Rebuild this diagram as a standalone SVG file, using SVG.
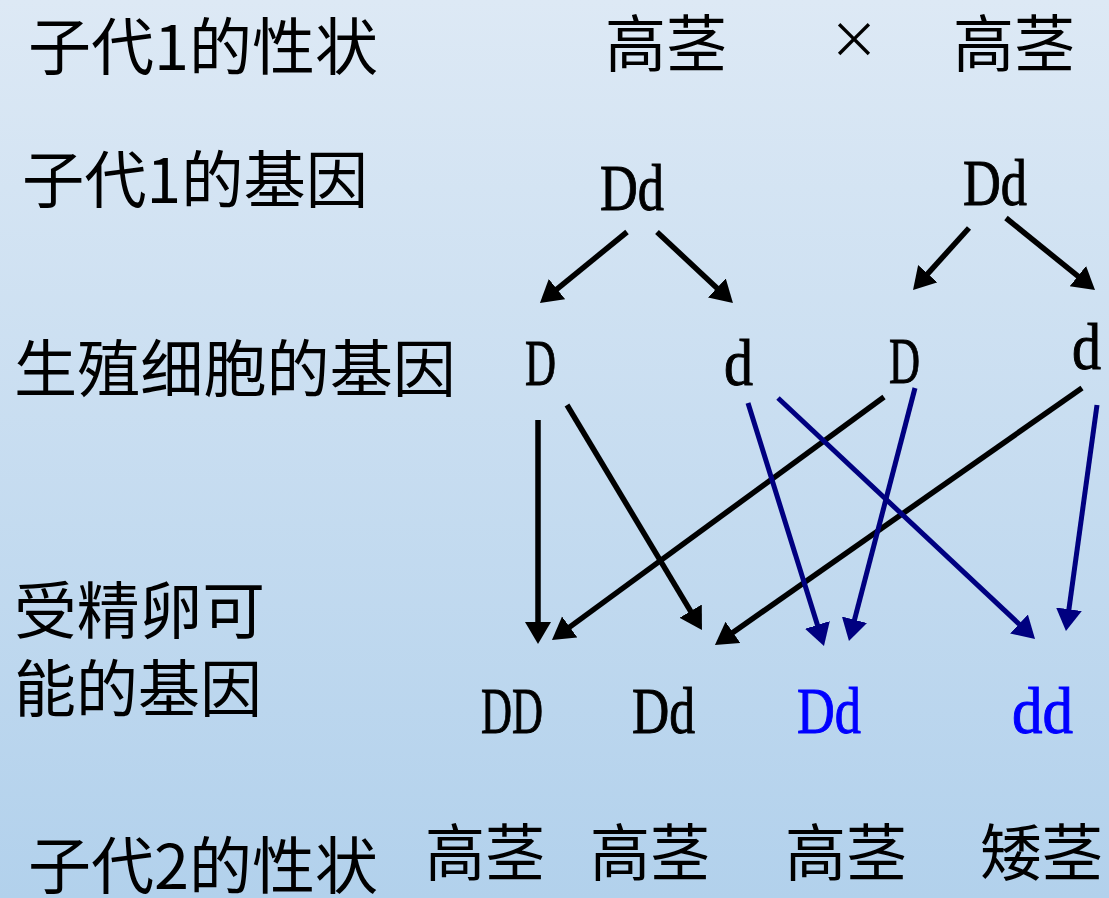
<svg xmlns="http://www.w3.org/2000/svg" width="1109" height="898" viewBox="0 0 1109 898">
<defs>
<linearGradient id="bg" x1="0" y1="0" x2="0" y2="1">
<stop offset="0" stop-color="#dde9f5"/>
<stop offset="1" stop-color="#b2d1ec"/>
</linearGradient>
<marker id="ak" markerUnits="userSpaceOnUse" markerWidth="26" markerHeight="28" refX="4" refY="13" orient="auto">
<path d="M0,0 L22,13 L0,26 z" fill="#000"/>
</marker>
<marker id="ab" markerUnits="userSpaceOnUse" markerWidth="26" markerHeight="28" refX="4" refY="13" orient="auto">
<path d="M0,0 L22,13 L0,26 z" fill="#000080"/>
</marker>
<style>
.cj{font-family:"Noto Sans CJK SC","Noto Sans",sans-serif;font-size:62px;fill:#000}
.lt{font-family:"Liberation Serif","DejaVu Serif",serif;font-size:66px;fill:#000;stroke:#000;stroke-width:1}
.blu{fill:#0000ff;stroke:#0000ff}
.k{stroke:#000;stroke-width:5.5;fill:none;marker-end:url(#ak)}
.b{stroke:#000080;stroke-width:5;fill:none;marker-end:url(#ab)}
</style>
</defs>
<rect width="1109" height="898" fill="url(#bg)"/>
<g id="labels">
<text class="cj" x="28" y="70" textLength="350" lengthAdjust="spacingAndGlyphs">子代1的性状</text>
<text class="cj" x="22" y="203" textLength="346" lengthAdjust="spacingAndGlyphs">子代1的基因</text>
<text class="cj" x="14" y="392" textLength="442" lengthAdjust="spacingAndGlyphs">生殖细胞的基因</text>
<text class="cj" x="14" y="634" textLength="251" lengthAdjust="spacingAndGlyphs">受精卵可</text>
<text class="cj" x="14" y="712" textLength="248" lengthAdjust="spacingAndGlyphs">能的基因</text>
<text class="cj" x="28" y="889" textLength="350" lengthAdjust="spacingAndGlyphs">子代2的性状</text>
</g>
<g id="parents">
<text class="cj" x="605" y="67" textLength="122" lengthAdjust="spacingAndGlyphs">高茎</text>
<text class="cj" x="829" y="58" style="font-size:50px">×</text>
<text class="cj" x="953" y="67" textLength="122" lengthAdjust="spacingAndGlyphs">高茎</text>
</g>
<g id="parent-genes">
<text class="lt" x="600" y="210" textLength="64" lengthAdjust="spacingAndGlyphs">Dd</text>
<text class="lt" x="963" y="205" textLength="64" lengthAdjust="spacingAndGlyphs">Dd</text>
</g>
<g id="gametes">
<text class="lt" x="525" y="385" textLength="31" lengthAdjust="spacingAndGlyphs">D</text>
<text class="lt" x="724" y="385" textLength="29" lengthAdjust="spacingAndGlyphs">d</text>
<text class="lt" x="889" y="383" textLength="31" lengthAdjust="spacingAndGlyphs">D</text>
<text class="lt" x="1072" y="369" textLength="29" lengthAdjust="spacingAndGlyphs">d</text>
</g>
<g id="zygotes">
<text class="lt" x="481" y="733" textLength="62" lengthAdjust="spacingAndGlyphs">DD</text>
<text class="lt" x="632" y="733" textLength="63" lengthAdjust="spacingAndGlyphs">Dd</text>
<text class="lt blu" x="797" y="733" textLength="64" lengthAdjust="spacingAndGlyphs">Dd</text>
<text class="lt blu" x="1012" y="733" textLength="61" lengthAdjust="spacingAndGlyphs">dd</text>
</g>
<g id="offspring">
<text class="cj" x="425" y="876" textLength="120" lengthAdjust="spacingAndGlyphs">高茎</text>
<text class="cj" x="590" y="876" textLength="120" lengthAdjust="spacingAndGlyphs">高茎</text>
<text class="cj" x="785" y="876" textLength="122" lengthAdjust="spacingAndGlyphs">高茎</text>
<text class="cj" x="980" y="876" textLength="123" lengthAdjust="spacingAndGlyphs">矮茎</text>
</g>
<g id="connectors">
<line class="k" x1="627" y1="232" x2="553.9" y2="291.6"/>
<line class="k" x1="657" y1="232" x2="719.8" y2="290.7"/>
<line class="k" x1="969" y1="228" x2="925.1" y2="276.6"/>
<line class="k" x1="1006" y1="218" x2="1081" y2="278.7"/>
<line class="k" x1="538" y1="420" x2="538" y2="626"/>
<line class="k" x1="567" y1="405" x2="692.7" y2="614.6"/>
<line class="k" x1="884" y1="397" x2="566.5" y2="629.4"/>
<line class="k" x1="1082" y1="388" x2="729.7" y2="634.7"/>
<line class="b" x1="748" y1="403" x2="818.6" y2="628.8"/>
<line class="b" x1="915" y1="388" x2="853.5" y2="623.6"/>
<line class="b" x1="778" y1="398" x2="1021.9" y2="626.7"/>
<line class="b" x1="1097" y1="405" x2="1068.4" y2="613.2"/>
</g>
</svg>
